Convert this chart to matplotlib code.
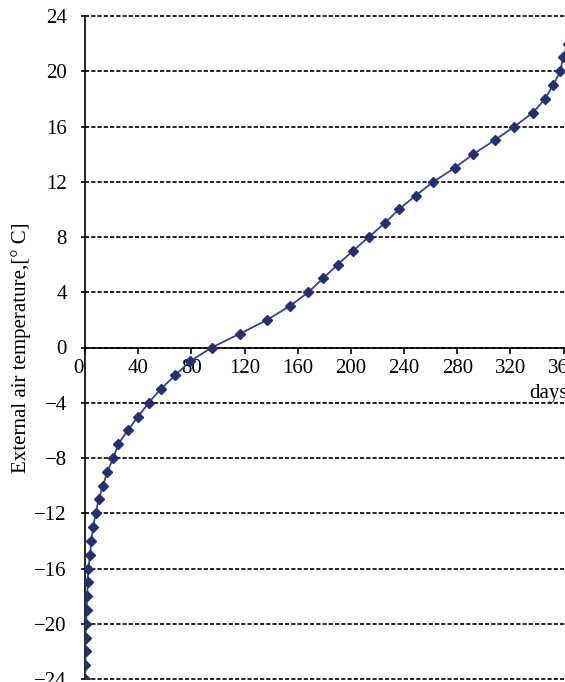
import matplotlib
matplotlib.use('Agg')
import matplotlib.pyplot as plt
import matplotlib.transforms as mtransforms

# temperature duration curve: number of days with outdoor temp below each value
temps = list(range(-24, 23))
days = [0, 0.3, 0.5, 0.5, 0.8, 1.3, 1.7, 2, 2.5, 3.8, 4.7, 6.2, 8, 10.3, 13.5, 16.8,
        21.3, 25, 32, 40, 47.9, 57, 68, 79, 95.4, 116.5, 137, 154, 168, 179, 190,
        201.6, 213.4, 225.4, 236, 248.7, 262, 278, 292, 308, 323, 336.8, 346, 352,
        357.6, 359.5, 363]

xticks = [0, 40, 80, 120, 160, 200, 240, 280, 320, 360]
yticks = [-24, -20, -16, -12, -8, -4, 0, 4, 8, 12, 16, 20, 24]

plt.rcParams['font.family'] = ['Liberation Serif', 'DejaVu Serif']
plt.rcParams['lines.scale_dashes'] = False

fig = plt.figure(figsize=(5.65, 6.82), dpi=100)
ax = fig.add_axes([85/565, 3/682, 480/565, 663/682])

ax.plot(days, temps, color='#3d3d9d', lw=1.3, marker='D', markersize=4.8,
        markerfacecolor='#272f72', markeredgecolor='#272f72', zorder=3)

ax.set_xlim(0, 361)
ax.set_ylim(-24, 24)
ax.set_xticks(xticks)
ax.set_yticks(yticks)

ax.spines['top'].set_visible(False)
ax.spines['right'].set_visible(False)
ax.spines['bottom'].set_position(('data', 0))
ax.spines['left'].set_linewidth(1.2)
ax.spines['bottom'].set_linewidth(1.2)

ax.tick_params(axis='x', direction='out', length=4.5, width=1.2, pad=4, labelsize=15)
ax.tick_params(axis='y', direction='out', length=3, width=1.2, pad=10, labelsize=15)

ax.grid(axis='y', color='black', linestyle=(0, (3, 1.5)), lw=1.2, zorder=1)
ax.set_axisbelow(True)
for gl in ax.get_ygridlines():
    gl.set_clip_on(False)

# "0" sits a bit left of its tick in the original
lab0 = ax.get_xticklabels()[0]
lab0.set_transform(lab0.get_transform() + mtransforms.ScaledTranslation(-7/100, 0, fig.dpi_scale_trans))

ax.set_ylabel('External air temperature,[° C]', fontsize=15)
ax.yaxis.set_label_coords(-0.113, 0.5)
ax.set_xlabel('days', fontsize=15, ha='left', va='center')
ax.xaxis.set_label_coords(0.925, 0.43)

fig.savefig('out.png', dpi=100)
